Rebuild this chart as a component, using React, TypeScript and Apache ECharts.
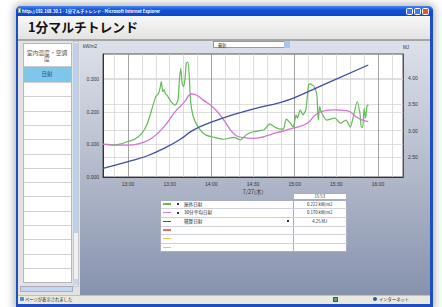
import React, { useEffect, useRef } from "react";
import * as echarts from "echarts";

// ---- data ----
const seriesNames = ["屋外日射", "30分平均日射", "積算日射"];
const seriesUnits = ["kW/m2", "kW/m2", "MJ"];
const seriesColors = ["#62bb55", "#d077cf", "#3d4ea3"];
const extraSwatches = ["#e07070", "#e6c65e", "#a6cfea"];

const outdoorData: [string, number][] = [
  ["12:42", 0.101], ["12:46", 0.1], ["12:50", 0.099], ["12:55", 0.102], ["13:00", 0.109],
  ["13:05", 0.117], ["13:10", 0.134], ["13:14", 0.165], ["13:17", 0.206], ["13:20", 0.247],
  ["13:22", 0.257], ["13:23", 0.272], ["13:24", 0.293], ["13:25", 0.262], ["13:26", 0.268],
  ["13:27", 0.255], ["13:28", 0.252], ["13:31", 0.232], ["13:34", 0.221], ["13:36", 0.237],
  ["13:37", 0.298], ["13:38", 0.334], ["13:39", 0.288], ["13:40", 0.278], ["13:41", 0.3],
  ["13:42", 0.35], ["13:43", 0.353], ["13:44", 0.319], ["13:45", 0.237], ["13:47", 0.186],
  ["13:51", 0.15], ["13:56", 0.129], ["14:02", 0.122], ["14:09", 0.116], ["14:16", 0.122],
  ["14:21", 0.114], ["14:25", 0.129], ["14:30", 0.139], ["14:38", 0.145], ["14:42", 0.163],
  ["14:46", 0.153], ["14:50", 0.147], ["14:52", 0.148], ["14:54", 0.178], ["14:57", 0.165],
  ["14:59", 0.153], ["15:01", 0.191], ["15:02", 0.181], ["15:04", 0.206], ["15:06", 0.191],
  ["15:08", 0.206], ["15:09", 0.242], ["15:10", 0.283], ["15:11", 0.286], ["15:14", 0.278],
  ["15:16", 0.252], ["15:17", 0.175], ["15:18", 0.216], ["15:19", 0.201], ["15:23", 0.175],
  ["15:29", 0.181], ["15:33", 0.165], ["15:37", 0.175], ["15:40", 0.153], ["15:42", 0.181],
  ["15:45", 0.232], ["15:47", 0.196], ["15:48", 0.153], ["15:49", 0.153], ["15:50", 0.211],
  ["15:51", 0.181], ["15:52", 0.216], ["15:53", 0.222],
];

const averageData: [string, number][] = [
  ["12:42", 0.1], ["12:50", 0.098], ["13:00", 0.098], ["13:09", 0.104], ["13:17", 0.119],
  ["13:26", 0.155], ["13:34", 0.201], ["13:40", 0.227], ["13:46", 0.255], ["13:48", 0.254],
  ["13:54", 0.237], ["14:02", 0.211], ["14:09", 0.175], ["14:16", 0.134], ["14:23", 0.121],
  ["14:30", 0.119], ["14:35", 0.121], ["14:40", 0.127], ["14:47", 0.136], ["14:59", 0.15],
  ["15:09", 0.165], ["15:15", 0.191], ["15:21", 0.203], ["15:28", 0.206], ["15:38", 0.203],
  ["15:44", 0.186], ["15:47", 0.178], ["15:53", 0.17],
];

const totalData: [string, number][] = [
  ["12:42", 2.28], ["13:00", 2.41], ["13:14", 2.52], ["13:28", 2.69], ["13:38", 2.84],
  ["13:47", 3.01], ["14:00", 3.16], ["14:14", 3.29], ["14:30", 3.41], ["14:50", 3.54],
  ["15:00", 3.63], ["15:23", 3.9], ["15:53", 4.25],
];

const xLabelTimes = ["13:00", "13:30", "14:00", "14:30", "15:00", "15:30", "16:00"];
const xGridTimes = [
  "12:50", "13:00", "13:10", "13:20", "13:30", "13:40", "13:50", "14:00", "14:10", "14:20",
  "14:30", "14:40", "14:50", "15:00", "15:10", "15:20", "15:30", "15:40", "15:50", "16:00",
  "16:10",
];
const leftTicks = [0, 0.1, 0.2, 0.3];
const rightTicks = [2.5, 3, 3.5, 4];
const dateLabel = "7/27(木)";
const latestTime = "15:53";

const toMin = (t: string) => {
  const [h, m] = t.split(":").map(Number);
  return (h - 12) * 60 + m;
};
const fmtMin = (v: number) => {
  const h = 12 + Math.floor(v / 60);
  const m = Math.round(v % 60);
  return `${h}:${m < 10 ? "0" + m : m}`;
};

const abs = (s: React.CSSProperties): React.CSSProperties => ({ position: "absolute", boxSizing: "border-box", ...s });

function Chart() {
  const ref = useRef<HTMLDivElement>(null);
  useEffect(() => {
    if (!ref.current) return;
    const chart = echarts.init(ref.current, null, { renderer: "svg" });
    const labelStyle = { fontSize: 5, color: "#333", fontFamily: "Liberation Sans" };
    const light = "#d6d6d6";
    const dark = "#8c8c8c";
    chart.setOption({
      animation: false,
      backgroundColor: "transparent",
      grid: {
        left: 23, top: 13, width: 300, height: 123,
        show: true, backgroundColor: "#ffffff", borderColor: "#555", borderWidth: 1,
      },
      xAxis: {
        type: "value", min: 42, max: 258,
        axisLine: { show: true, lineStyle: { color: "#333", width: 1 } },
        axisTick: { show: false, customValues: xGridTimes.map(toMin) },
        axisLabel: { ...labelStyle, margin: 4, customValues: xLabelTimes.map(toMin), formatter: (v: number) => fmtMin(v) },
        splitLine: { show: true, lineStyle: { color: [light, dark, light, light, light, light], width: 0.8 } },
        name: dateLabel, nameLocation: "middle", nameGap: 12,
        nameTextStyle: { fontSize: 5.5, color: "#333", fontFamily: "Noto Sans CJK JP" },
      },
      yAxis: [
        {
          type: "value", min: 0, max: 0.378, position: "left",
          axisLine: { show: true, lineStyle: { color: "#333" } },
          axisTick: { show: false, customValues: leftTicks },
          axisLabel: { ...labelStyle, margin: 4, customValues: leftTicks, formatter: (v: number) => v.toFixed(3) },
          splitLine: { show: true, lineStyle: { color: light, width: 0.8 } },
          name: "kW/m2", nameLocation: "end", nameGap: 5,
          nameTextStyle: { fontSize: 4.5, color: "#333", align: "right", padding: [0, 6, 0, 0] },
        },
        {
          type: "value", min: 2.115, max: 4.46, position: "right",
          axisLine: { show: true, lineStyle: { color: "#555" } },
          axisTick: { show: false, customValues: rightTicks },
          axisLabel: { ...labelStyle, margin: 5, customValues: rightTicks, formatter: (v: number) => v.toFixed(2) },
          splitLine: { show: true, lineStyle: { color: light, width: 0.8 } },
          name: "MJ", nameLocation: "end", nameGap: 4,
          nameTextStyle: { fontSize: 4.5, color: "#333", align: "left", padding: [0, 0, 0, 0] },
        },
      ],
      series: [
        {
          name: seriesNames[0], type: "line", yAxisIndex: 0, showSymbol: false, smooth: 0.2,
          lineStyle: { color: seriesColors[0], width: 1.2 }, itemStyle: { color: seriesColors[0] },
          data: outdoorData.map(([t, v]) => [toMin(t), v]),
        },
        {
          name: seriesNames[1], type: "line", yAxisIndex: 0, showSymbol: false, smooth: 0.5,
          lineStyle: { color: seriesColors[1], width: 1.3 }, itemStyle: { color: seriesColors[1] },
          data: averageData.map(([t, v]) => [toMin(t), v]),
        },
        {
          name: seriesNames[2], type: "line", yAxisIndex: 1, showSymbol: false, smooth: 0.5,
          lineStyle: { color: seriesColors[2], width: 1.3 }, itemStyle: { color: seriesColors[2] },
          data: totalData.map(([t, v]) => [toMin(t), v]),
        },
      ],
    });
    return () => chart.dispose();
  }, []);
  return <div ref={ref} style={abs({ left: 80, top: 41, width: 350, height: 253 })} />;
}

export default function App() {
  const latest = [outdoorData, averageData, totalData].map((d, i) => {
    const v = d[d.length - 1][1];
    return (i === 2 ? v.toFixed(2) : v.toFixed(3)) + " " + seriesUnits[i];
  });
  const listRows = Array.from({ length: 14 }, (_, i) => 82 + i * 14.3);
  const rowH = 52 / 6;
  const swatches = [...seriesColors, ...extraSwatches];
  return (
    <div style={abs({ left: 0, top: 0, width: 442, height: 307, background: "#fff", overflow: "hidden", fontFamily: "'Noto Sans CJK JP', 'Noto Sans', sans-serif" })}>
      {/* window frame */}
      <div style={abs({ left: 16, top: 6, width: 417, height: 303, background: "#1e4ec2", borderRadius: "5px 5px 0 0", boxShadow: "0 0 8px 2px rgba(0,0,0,0.3)" })} />
      <div style={abs({ left: 16, top: 6, width: 417, height: 10, borderRadius: "5px 5px 0 0", background: "linear-gradient(180deg,#4a86f0 0%,#1252d8 40%,#0c47c9 100%)" })} />
      <div style={abs({ left: 17.5, top: 8, width: 3.5, height: 5, background: "#e8eef8", border: "0.5px solid #8aa" })} />
      <div style={abs({ left: 22, top: 7.5, fontSize: 4.2, lineHeight: "6px", color: "#fff", fontWeight: 700, whiteSpace: "nowrap" })}>
        http://192.168.30.1 - 1分マルチトレンド - Microsoft Internet Explorer
      </div>
      <div style={abs({ left: 406, top: 8, width: 7, height: 7, background: "#3c78ee", border: "0.6px solid #fff", borderRadius: 1.5 })} />
      <div style={abs({ left: 414, top: 8, width: 7, height: 7, background: "#3c78ee", border: "0.6px solid #fff", borderRadius: 1.5 })} />
      <div style={abs({ left: 422, top: 8, width: 7, height: 7, background: "#e0583a", border: "0.6px solid #fff", borderRadius: 1.5 })} />

      {/* header */}
      <div style={abs({ left: 18, top: 16, width: 412, height: 288, background: "#ececec" })} />
      <div style={abs({ left: 18, top: 16, width: 412, height: 23, background: "linear-gradient(180deg,#f8f8f8,#e3e3e3)" })} />
      <div style={abs({ left: 28, top: 19, fontSize: 12.8, lineHeight: "16px", fontWeight: 700, color: "#111", whiteSpace: "nowrap" })}>1分マルチトレンド</div>
      <div style={abs({ left: 18, top: 38.5, width: 412, height: 2, background: "#a6a6a6" })} />

      {/* left list */}
      <div style={abs({ left: 18, top: 40.5, width: 62, height: 254, background: "#e2e2e2" })} />
      <div style={abs({ left: 22.5, top: 43, width: 49, height: 240, background: "#fff", border: "1px solid #b8b8b8" })} />
      <div style={abs({ left: 24.5, top: 49.5, width: 45, fontSize: 5.8, lineHeight: "6.2px", color: "#555", textAlign: "center" })}>室内温度・空調度</div>
      <div style={abs({ left: 23.5, top: 66, width: 47, height: 0.8, background: "#c8c8c8" })} />
      <div style={abs({ left: 23.5, top: 67, width: 47, height: 15, background: "#7ec6ea", fontSize: 5.5, lineHeight: "15px", color: "#224a7a", textAlign: "center" })}>日射</div>
      {listRows.map((y, i) => (
        <div key={i} style={abs({ left: 23.5, top: y, width: 47, height: 0.8, background: "#cfcfcf" })} />
      ))}
      <div style={abs({ left: 72.5, top: 41, width: 6, height: 246, background: "#f0f0f0", border: "0.5px solid #c8c8c8" })} />
      <div style={abs({ left: 73, top: 43, width: 5, height: 190, background: "#bcd1ef", borderRadius: 1 })} />
      <div style={abs({ left: 73, top: 279, width: 5, height: 6, background: "#c6d6ee" })} />
      <div style={abs({ left: 20, top: 286, width: 53, height: 6, background: "#c4d6f0", border: "0.5px solid #aab" })} />

      {/* chart panel */}
      <div style={abs({ left: 80, top: 40.5, width: 350, height: 254, background: "linear-gradient(180deg,#dce1e9 0%,#bcc3d2 40%,#8792ad 100%)" })} />
      <Chart />
      <div style={abs({ left: 213, top: 41, width: 77, height: 7, background: "#fff", border: "0.7px solid #8a9ab8", fontSize: 4.3, lineHeight: "6px", color: "#333", paddingLeft: 4 })}>最新</div>
      <div style={abs({ left: 284, top: 41.3, width: 5.5, height: 6.4, background: "#a9c4ee" })} />

      {/* legend table */}
      <div style={abs({ left: 292.5, top: 193, width: 54.5, height: 7, background: "#fff", border: "0.7px solid #a8aec0", fontSize: 4.3, lineHeight: "5.6px", textAlign: "center", color: "#333" })}>{latestTime}</div>
      <div style={abs({ left: 160, top: 199.5, width: 187, height: 52, background: "#fff", border: "0.7px solid #a8aec0" })} />
      <div style={abs({ left: 292.5, top: 199.5, width: 0.8, height: 52, background: "#a8aec0" })} />
      {swatches.map((c, i) => (
        <React.Fragment key={i}>
          {i > 0 && <div style={abs({ left: 160.5, top: 199.5 + i * rowH, width: 186, height: 0.7, background: "#cfd2da" })} />}
          <div style={abs({ left: 163, top: 199.5 + i * rowH + rowH / 2 - 0.6, width: 8, height: 1.3, background: c })} />
          {i < 2 && <div style={abs({ left: 176.5, top: 199.5 + i * rowH + rowH / 2 - 1, width: 2, height: 2, background: "#333" })} />}
          {i < 3 && <div style={abs({ left: 184, top: 199.5 + i * rowH, fontSize: 4.6, lineHeight: `${rowH}px`, color: "#222", whiteSpace: "nowrap" })}>{seriesNames[i]}</div>}
          {i === 2 && <div style={abs({ left: 287, top: 199.5 + i * rowH + rowH / 2 - 1, width: 2, height: 2, background: "#333" })} />}
          {i < 3 && <div style={abs({ left: 292.5, top: 199.5 + i * rowH, width: 54.5, textAlign: "center", fontSize: 4.3, lineHeight: `${rowH}px`, color: "#222", whiteSpace: "nowrap" })}>{latest[i]}</div>}
        </React.Fragment>
      ))}

      {/* status bar */}
      <div style={abs({ left: 18, top: 294.5, width: 412, height: 9.5, background: "#ebe8dc", borderTop: "0.8px solid #c4c1b4" })} />
      <div style={abs({ left: 20, top: 297, width: 4, height: 4, background: "#4d8ad8", borderRadius: 1 })} />
      <div style={abs({ left: 25, top: 295.5, fontSize: 4.3, lineHeight: "7px", color: "#222", whiteSpace: "nowrap" })}>ページが表示されました</div>
      <div style={abs({ left: 333, top: 296.5, width: 5, height: 5, background: "#4da86a", border: "0.6px solid #2d6a40" })} />
      <div style={abs({ left: 373, top: 297, width: 4, height: 4, background: "#2a5aa8", borderRadius: 2 })} />
      <div style={abs({ left: 379, top: 295.5, fontSize: 4.3, lineHeight: "7px", color: "#222", whiteSpace: "nowrap" })}>インターネット</div>
    </div>
  );
}
